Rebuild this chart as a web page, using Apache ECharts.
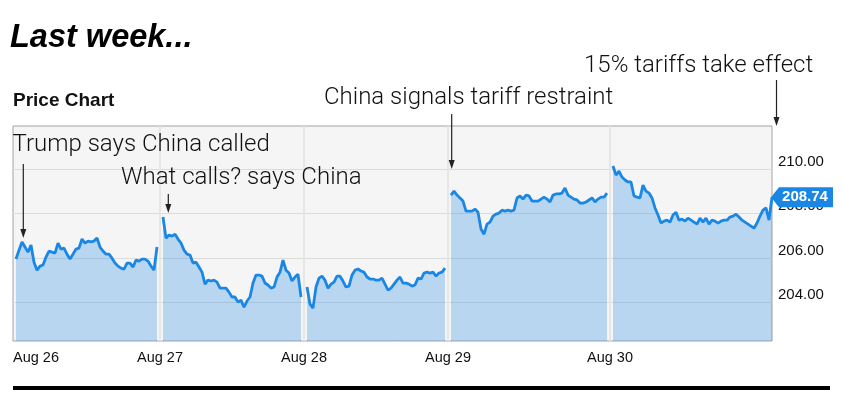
<!DOCTYPE html>
<html><head><meta charset="utf-8">
<script src="https://cdn.jsdelivr.net/npm/echarts@6/dist/echarts.min.js"></script>
<style>html,body{margin:0;padding:0;background:#fff}#c{width:842px;height:400px}</style>
</head><body><div id="c"></div>
<script>
// ---- data ----
const dayLabels = ['Aug 26', 'Aug 27', 'Aug 28', 'Aug 29', 'Aug 30'];
const aug26 = [205.96,206.36,206.73,206.50,206.27,206.59,205.82,205.46,205.64,205.69,206.05,206.32,206.27,206.23,206.68,206.41,206.45,206.18,205.96,206.18,206.41,206.45,206.86,206.68,206.77,206.73,206.77,206.91,206.50,206.32,206.18,206.18,206.00,205.78,205.64,205.55,205.50,205.78,205.78,205.60,205.91,205.87,205.96,205.96,205.87,205.64,205.46,206.50];
const aug27 = [207.85,206.90,207.04,206.99,207.08,206.86,206.68,206.36,206.18,206.14,205.78,205.82,205.60,205.37,204.83,205.01,204.97,205.01,204.92,204.65,204.65,204.65,204.47,204.25,204.25,204.02,204.11,203.79,204.07,204.25,204.88,205.24,205.24,205.19,204.88,204.79,204.65,204.70,205.15,205.37,205.91,205.46,205.33,204.97,205.15,205.28,204.25];
const aug28 = [204.70,203.93,203.75,204.70,205.10,205.19,205.01,204.65,204.83,204.92,205.19,205.19,204.97,204.70,204.74,205.24,205.46,205.51,205.42,205.37,205.15,205.06,205.06,205.01,205.01,205.10,204.83,204.56,204.65,204.83,205.01,205.15,204.88,204.88,204.83,204.74,204.79,205.10,205.06,205.33,205.37,205.33,205.37,205.19,205.33,205.37,205.55];
const aug29 = [208.84,209.02,208.84,208.71,208.57,208.12,208.12,208.12,208.21,208.07,207.31,207.08,207.53,207.62,207.89,207.98,208.03,208.16,208.12,208.16,208.12,208.16,208.71,208.80,208.66,208.84,208.80,208.57,208.57,208.57,208.66,208.75,208.66,208.53,208.84,208.89,208.89,208.93,209.16,208.84,208.75,208.66,208.62,208.48,208.48,208.53,208.62,208.71,208.53,208.66,208.75,208.75,208.93];
const aug30 = [210.15,209.74,209.92,209.65,209.52,209.43,209.43,208.80,208.75,208.71,209.29,209.02,208.93,208.71,208.26,207.94,207.58,207.67,207.71,207.62,207.94,208.07,207.71,207.76,207.67,207.80,207.71,207.62,207.53,207.80,207.62,207.80,207.53,207.71,207.67,207.58,207.67,207.71,207.71,207.85,207.89,207.98,207.85,207.71,207.62,207.53,207.44,207.35,207.58,207.89,208.16,208.26,207.71,208.74];
const days = [aug26, aug27, aug28, aug29, aug30];
const yMin = 202.27, yMax = 211.95;

// ---- build category axis: one empty slot before each day ----
const categories = [];
const tickIdx = {};
const ranges = [];
days.forEach((d, k) => {
  tickIdx[categories.length] = dayLabels[k];
  categories.push(k === 0 ? { value: dayLabels[k], textStyle: { align: 'left' } } : dayLabels[k]);
  const start = categories.length;
  d.forEach((v, i) => categories.push('p' + k + '_' + i));
  ranges.push(start);
});
const total = categories.length;
const lineColor = '#1a87e5';
const series = days.map((d, k) => {
  const arr = new Array(total).fill('-');
  d.forEach((v, i) => { arr[ranges[k] + i] = v; });
  const s = {
    type: 'line', data: arr, symbol: 'none', showSymbol: false,
    lineStyle: { color: lineColor, width: 2.8 },
    areaStyle: { color: 'rgba(24,134,230,0.27)', opacity: 1 },
    itemStyle: { color: lineColor },
    connectNulls: false, animation: false, silent: true
  };
  if (k === days.length - 1) {
    const last = d[d.length - 1];
    s.markPoint = {
      silent: true, animation: false,
      symbol: 'path://M0,10 L8,0 L62,0 L62,20 L8,20 Z',
      symbolKeepAspect: false,
      symbolSize: [62, 20], symbolOffset: [30, 0],
      itemStyle: { color: lineColor },
      label: { show: true, position: 'inside', offset: [3, 0], color: '#fff', fontWeight: 'bold', fontSize: 15, fontFamily: 'Liberation Sans, Arial, sans-serif', formatter: () => last.toFixed(2) },
      data: [{ coord: [total - 1, last] }]
    };
  }
  return s;
});

function arrow(x, y0, y1) {
  return [
    { type: 'line', shape: { x1: x, y1: y0, x2: x, y2: y1 - 6 }, style: { stroke: '#222', lineWidth: 1.2 }, z: 100 },
    { type: 'polygon', shape: { points: [[x - 3, y1 - 9], [x + 3, y1 - 9], [x, y1]] }, style: { fill: '#222' }, z: 100 }
  ];
}
const annFont = '300 24px Roboto, "Liberation Sans", Arial, sans-serif';
function ann(text, x, y) {
  return { type: 'text', x: x, y: y, z: 100, style: { text: text, font: annFont, fill: '#111', verticalAlign: 'middle', align: 'left' } };
}

const chart = echarts.init(document.getElementById('c'), null, { renderer: 'canvas' });
chart.setOption({
  animation: false,
  backgroundColor: '#fff',
  grid: { left: 13, right: 70, top: 126, bottom: 59, show: true, backgroundColor: '#f5f5f5', borderColor: '#a3a3a3', borderWidth: 1 },
  xAxis: {
    type: 'category', data: categories, boundaryGap: false,
    axisLine: { show: false }, axisTick: { show: false },
    axisLabel: {
      interval: (i) => tickIdx[i] !== undefined,
      formatter: (v, i) => tickIdx[i] || '',
      color: '#111', fontSize: 14.5, fontFamily: 'Liberation Sans, Arial, sans-serif', margin: 9
    },
    splitLine: { show: true, interval: (i) => tickIdx[i] !== undefined && i > 0, lineStyle: { color: '#e6e6e6', width: 2 } }
  },
  yAxis: {
    type: 'value', position: 'right', min: yMin, max: yMax, scale: true,
    axisLine: { show: false }, axisTick: { show: false },
    axisLabel: { showMinLabel: false, showMaxLabel: false, formatter: (v) => v.toFixed(2), color: '#111', fontSize: 15, fontFamily: 'Liberation Sans, Arial, sans-serif', margin: 6, verticalAlign: 'bottom' },
    splitLine: { show: true, showMinLine: false, showMaxLine: false, lineStyle: { color: '#dcdcdc', width: 1 } }
  },
  series: series,
  graphic: [
    { type: 'text', x: 10, y: 38, style: { text: 'Last week...', font: 'italic bold 32.5px "Liberation Sans", Arial, sans-serif', fill: '#000', verticalAlign: 'middle' } },
    { type: 'text', x: 13, y: 100.5, style: { text: 'Price Chart', font: 'bold 19px "Liberation Sans", Arial, sans-serif', fill: '#111', verticalAlign: 'middle' } },
    ann('15% tariffs take effect', 584, 65.5),
    ann('China signals tariff restraint', 324, 97.5),
    ann('Trump says China called', 12.5, 145),
    ann('What calls? says China', 121, 177.5),
    ...arrow(776.5, 80, 126),
    ...arrow(451.7, 114, 169),
    ...arrow(23.3, 164, 238),
    ...arrow(168.3, 194, 213),
    { type: 'rect', shape: { x: 13, y: 386, width: 817, height: 4 }, style: { fill: '#000' } }
  ]
});
</script>
</body></html>
